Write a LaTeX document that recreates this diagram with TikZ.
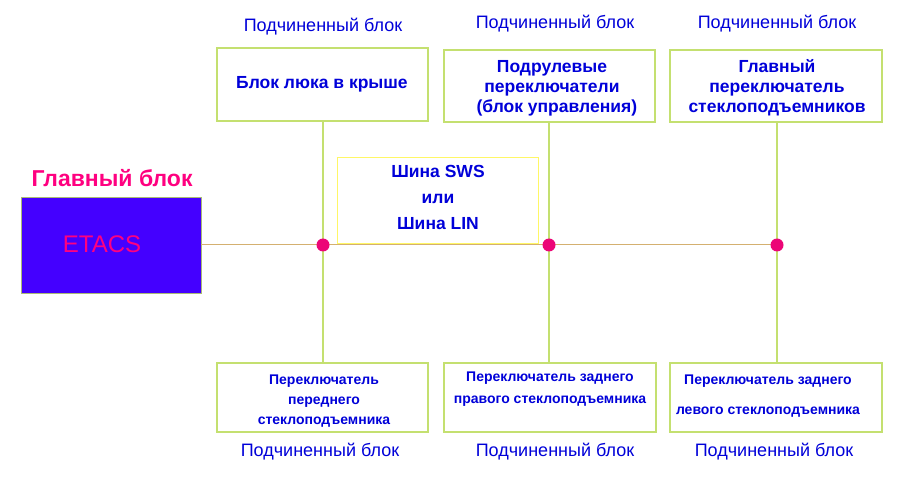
\documentclass[tikz,border=0pt]{standalone}
\usepackage{fontspec}
\setmainfont{Liberation Sans}
\begin{document}
\begin{tikzpicture}[x=1pt,y=-1pt,
 ttl/.style={text=blue!85!black, font=\fontsize{18}{20}\selectfont},
 btxt/.style={text=blue!85!black, font=\bfseries\fontsize{17.5}{20}\selectfont, align=center},
 stxt/.style={text=blue!85!black, font=\bfseries\fontsize{14}{22}\selectfont, align=center},
 dot/.style={circle, fill=magenta!80!red, inner sep=0pt, minimum size=13pt}]
\definecolor{gl}{HTML}{C4E070}
\definecolor{bus}{HTML}{D4B070}
\definecolor{pk}{HTML}{FF0080}
\definecolor{bl}{HTML}{4400FF}
\useasboundingbox (0,0) rectangle (900,486);
\fill[white] (0,0) rectangle (900,486);
% top boxes
\draw[draw=gl,line width=1.2pt] (217,48) rectangle (428,121); \node[btxt] (t1) at (322,84) {Блок люка в крыше};
\draw[draw=gl,line width=1.2pt] (444,50) rectangle (655,122); \node[btxt] (t2) at (552,88) {Подрулевые\\ переключатели\\ \ \ (блок управления)};
\draw[draw=gl,line width=1.2pt] (670,50) rectangle (882,122); \node[btxt] (t3) at (777,88) {Главный\\переключатель\\стеклоподъемников};
% bottom boxes
\draw[draw=gl,line width=1.2pt] (217,363) rectangle (428,432); \node[stxt, font=\bfseries\fontsize{14}{20}\selectfont] (b1) at (324,401) {Переключатель\\переднего\\стеклоподъемника};
\draw[draw=gl,line width=1.2pt] (444,363) rectangle (656,432); \node[stxt] (b2) at (550,389) {Переключатель заднего\\правого стеклоподъемника};
\draw[draw=gl,line width=1.2pt] (670,363) rectangle (882,432); \node[stxt, font=\bfseries\fontsize{14}{30}\selectfont] (b3) at (768,396) {Переключатель заднего\\левого стеклоподъемника};
% labels
\node[ttl] (l1) at (323,27) {Подчиненный блок};
\node[ttl] (l2) at (555,24) {Подчиненный блок};
\node[ttl] (l3) at (777,24) {Подчиненный блок};
\node[ttl] (l4) at (320,452) {Подчиненный блок};
\node[ttl] (l5) at (555,452) {Подчиненный блок};
\node[ttl] (l6) at (774,452) {Подчиненный блок};
% main
\node[text=pk, font=\bfseries\fontsize{23}{26}\selectfont] (gm) at (112,178) {Главный блок};
\fill[bl] (21,197) rectangle (201,293);
\draw[gl!60!gray, line width=0.8pt] (21,197) rectangle (201,293);
\node[text=pk, font=\fontsize{24}{26}\selectfont] (et) at (102,244) {ETACS};
% SWS box
\draw[yellow!60!white, line width=1pt] (337,158) rectangle (538,244);
\node[btxt, font=\bfseries\fontsize{17.5}{26}\selectfont] (sws) at (438,197) {Шина SWS\\или\\Шина LIN};
% lines
\coordinate (e) at (201,245);
\coordinate (k1) at (323,245); \coordinate (k2) at (549,245); \coordinate (k3) at (777,245);
\draw[bus, line width=1pt] (e) -- (k3);
\draw[gl, line width=1.2pt] (323,121) -- (323,363);
\draw[gl, line width=1.2pt] (549,122) -- (549,363);
\draw[gl, line width=1.2pt] (777,122) -- (777,363);
\node[dot] (d1) at (k1) {}; \node[dot] (d2) at (k2) {}; \node[dot] (d3) at (k3) {};
\end{tikzpicture}
\end{document}
